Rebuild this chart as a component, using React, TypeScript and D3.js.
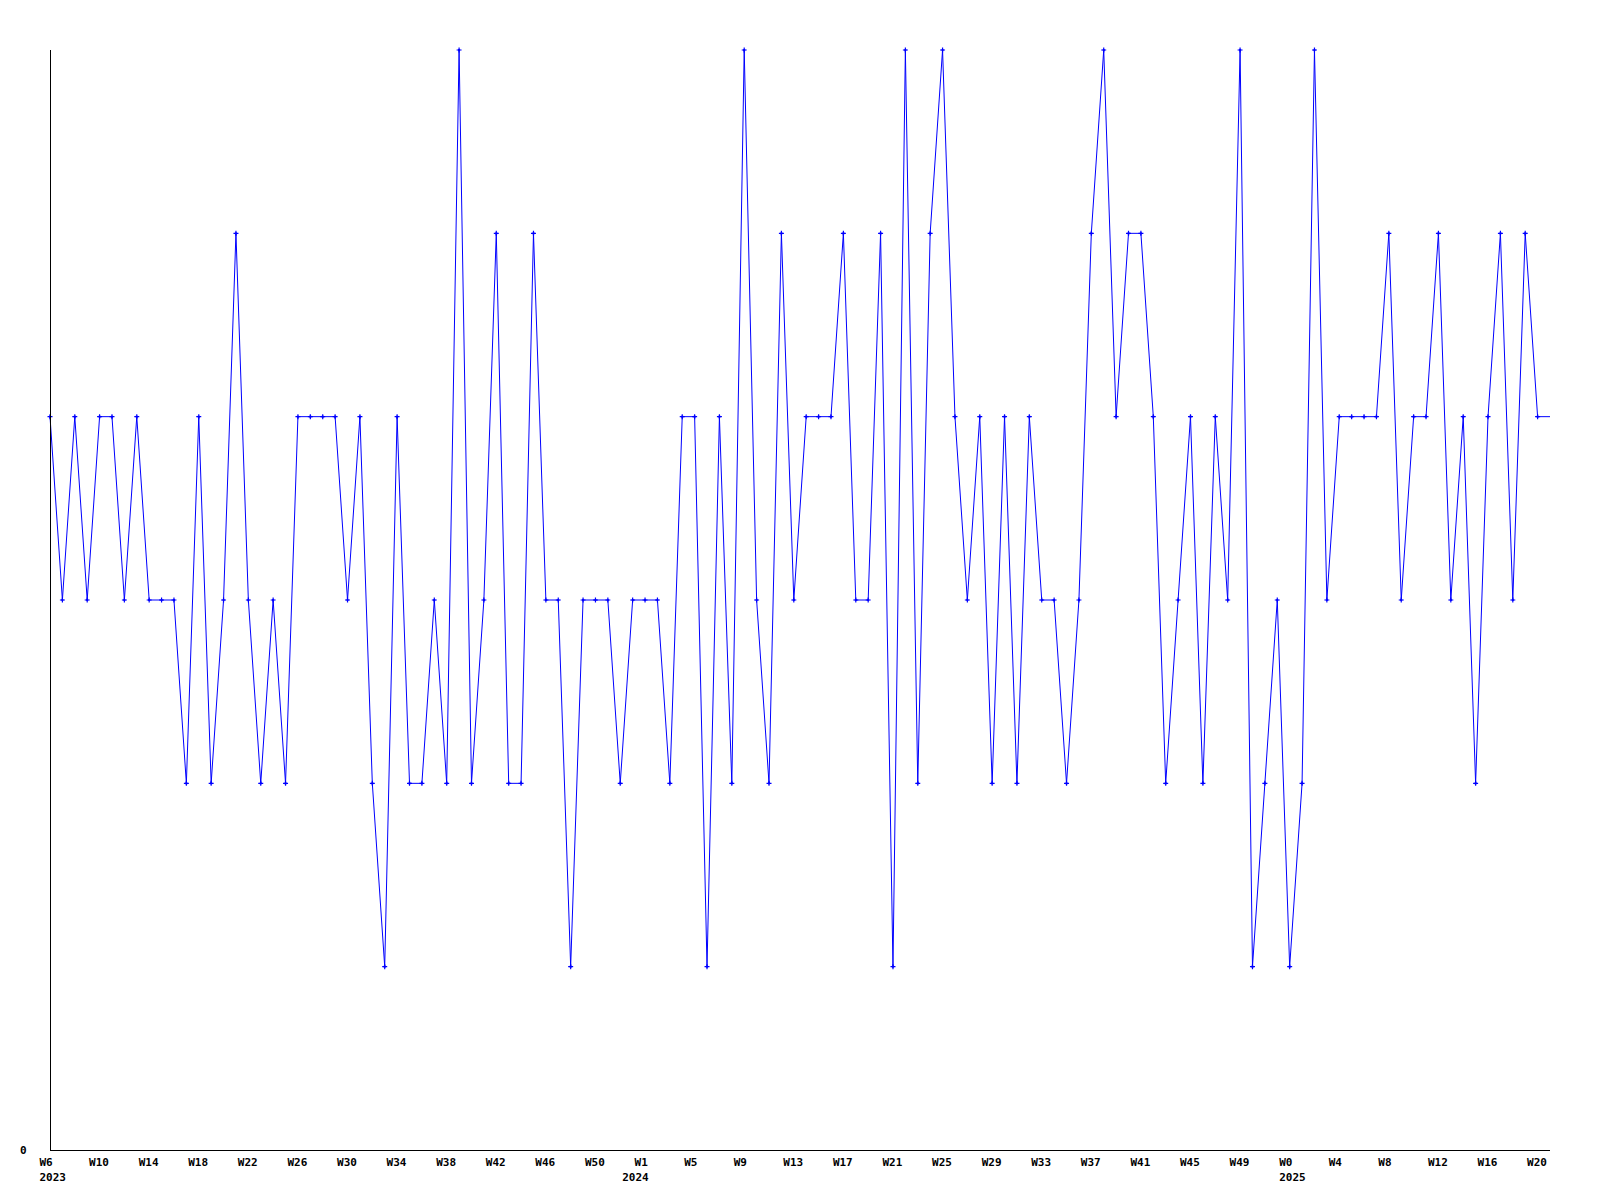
import React from "react";
import * as d3 from "d3";

const values: number[] = [
  4, 3, 4, 3, 4, 4, 3, 4, 3, 3,
  3, 2, 4, 2, 3, 5, 3, 2, 3, 2,
  4, 4, 4, 4, 3, 4, 2, 1, 4, 2,
  2, 3, 2, 6, 2, 3, 5, 2, 2, 5,
  3, 3, 1, 3, 3, 3, 2, 3, 3, 3,
  2, 4, 4, 1, 4, 2, 6, 3, 2, 5,
  3, 4, 4, 4, 5, 3, 3, 5, 1, 6,
  2, 5, 6, 4, 3, 4, 2, 4, 2, 4,
  3, 3, 2, 3, 5, 6, 4, 5, 5, 4,
  2, 3, 4, 2, 4, 3, 6, 1, 2, 3,
  1, 2, 6, 3, 4, 4, 4, 4, 5, 3,
  4, 4, 5, 3, 4, 2, 4, 5, 3, 5,
  4,
];

const weekLabels: string[] = [
  "W6", "W10", "W14", "W18", "W22", "W26", "W30", "W34", "W38", "W42", "W46", "W50",
  "W1", "W5", "W9", "W13", "W17", "W21", "W25", "W29", "W33", "W37", "W41", "W45", "W49",
  "W0", "W4", "W8", "W12", "W16", "W20",
];
// year labels placed at the week index where each year begins
const yearLabels: { index: number; label: string }[] = [
  { index: 0, label: "2023" },
  { index: 47, label: "2024" },
  { index: 100, label: "2025" },
];
const tickStep = 4;
const yMax = 6;

export default function App() {
  const x = d3.scaleLinear().domain([0, values.length]).range([50, 1550]);
  const y = d3.scaleLinear().domain([0, yMax]).range([1150, 50]);
  const pts: [number, number][] = values.map((v, i) => [x(i), y(v)]);
  const ext: [number, number][] = [...pts, [x(values.length), y(values[values.length - 1])]];
  const line = d3.line<[number, number]>().x((d) => d[0]).y((d) => d[1]);
  const font = "'DejaVu Sans Mono', monospace";
  return (
    <svg
      width={1600}
      height={1200}
      style={{ position: "absolute", left: 0, top: 0, background: "#fff" }}
    >
      <rect x={0} y={0} width={1600} height={1200} fill="#fff" />
      <path
        d={line(ext) || ""}
        fill="none"
        stroke="#0000ff"
        strokeWidth={1}
      />
      {pts.map((p, i) => (
        <g key={i} transform={`translate(${p[0]},${p[1]})`}>
          <path d="M-2.5,0H2.5M0,-2.5V2.5" stroke="#0000ff" strokeWidth={1.2} />
          <rect x={-1} y={-1} width={2} height={2} fill="#0000ff" />
        </g>
      ))}
      <line x1={50.5} y1={50} x2={50.5} y2={1150} stroke="#000" strokeWidth={1} />
      <line x1={50} y1={1150.5} x2={1550} y2={1150.5} stroke="#000" strokeWidth={1} />
      <text x={20} y={1154} fontFamily={font} fontWeight="bold" fontSize={11} fill="#000">
        0
      </text>
      {weekLabels.map((l, k) => (
        <text
          key={k}
          x={x(k * tickStep) - 10.5}
          y={1166}
          fontFamily={font}
          fontWeight="bold"
          fontSize={11}
          fill="#000"
        >
          {l}
        </text>
      ))}
      {yearLabels.map((yl) => (
        <text
          key={yl.label}
          x={x(yl.index) - 10.5}
          y={1181}
          fontFamily={font}
          fontWeight="bold"
          fontSize={11}
          fill="#000"
        >
          {yl.label}
        </text>
      ))}
    </svg>
  );
}
